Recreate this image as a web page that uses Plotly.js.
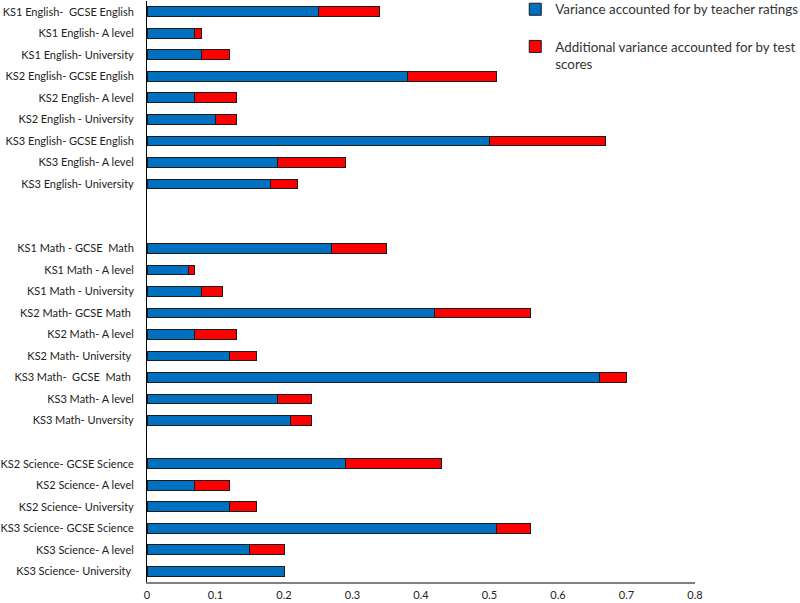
<!DOCTYPE html>
<html>
<head>
<meta charset="utf-8">
<script src="https://cdn.plot.ly/plotly-3.0.1.min.js"></script>
<style>html,body{margin:0;padding:0;background:#fff;}#chart{width:800px;height:603px;}</style>
</head>
<body>
<div id="chart"></div>
<script>
var NB = '\u00A0';
var categories = [
  'KS1 English-' + NB + ' GCSE English',
  'KS1 English- A level',
  'KS1 English- University',
  'KS2 English- GCSE English',
  'KS2 English- A level',
  'KS2 English - University',
  'KS3 English- GCSE English',
  'KS3 English- A level',
  'KS3 English- University',
  NB,
  NB + NB,
  'KS1 Math - GCSE' + NB + ' Math',
  'KS1 Math - A level',
  'KS1 Math - University',
  'KS2 Math- GCSE Math' + NB,
  'KS2 Math- A level',
  'KS2 Math- University' + NB,
  'KS3 Math-' + NB + ' GCSE' + NB + ' Math' + NB,
  'KS3 Math- A level',
  'KS3 Math- Unversity',
  NB + NB + NB,
  'KS2 Science- GCSE Science',
  'KS2 Science- A level',
  'KS2 Science- University',
  'KS3 Science- GCSE Science',
  'KS3 Science- A level',
  'KS3 Science- University' + NB
];
var teacherRatings = [0.25, 0.07, 0.08, 0.38, 0.07, 0.10, 0.50, 0.19, 0.18, null, null,
                      0.27, 0.06, 0.08, 0.42, 0.07, 0.12, 0.66, 0.19, 0.21, null,
                      0.29, 0.07, 0.12, 0.51, 0.15, 0.20];
var testScores = [0.09, 0.01, 0.04, 0.13, 0.06, 0.03, 0.17, 0.10, 0.04, null, null,
                  0.08, 0.01, 0.03, 0.14, 0.06, 0.04, 0.04, 0.05, 0.03, null,
                  0.14, 0.05, 0.04, 0.05, 0.05, 0.00];
var seriesNames = ['Variance accounted for by teacher ratings',
                   'Additional variance accounted for by test<br>scores'];
var xTicks = [0, 0.1, 0.2, 0.3, 0.4, 0.5, 0.6, 0.7, 0.8];

var FONT = 'Lato, "Open Sans", sans-serif';
var traces = [
  {type: 'bar', orientation: 'h', y: categories, x: teacherRatings, name: seriesNames[0],
   marker: {color: '#0070C0', line: {color: '#1a1a1a', width: 1}}, legend: 'legend', hoverinfo: 'x+y'},
  {type: 'bar', orientation: 'h', y: categories, x: testScores, name: seriesNames[1],
   marker: {color: '#FF0000', line: {color: '#1a1a1a', width: 1}}, legend: 'legend2', hoverinfo: 'x+y'}
];
var layout = {
  width: 800, height: 603,
  margin: {l: 147, r: 105, t: 1, b: 21, pad: 0, autoexpand: false},
  paper_bgcolor: '#fff', plot_bgcolor: '#fff',
  barmode: 'stack', bargap: 0.55,
  font: {family: FONT, size: 11, color: '#222'},
  xaxis: {range: [0, 0.8], tickvals: xTicks, ticktext: xTicks.map(function(v){return String(v);}),
          showgrid: false, zeroline: false, showline: true, linecolor: '#808080', linewidth: 1.5,
          ticks: '', ticklabelstandoff: 2, tickfont: {size: 11, color: '#222'}, fixedrange: true,
          automargin: false},
  yaxis: {type: 'category', categoryorder: 'array', categoryarray: categories, autorange: 'reversed',
          showgrid: false, zeroline: false, showline: true, linecolor: '#000', linewidth: 1,
          ticks: '', ticklabelstandoff: 10, tickfont: {size: 11, color: '#222'}, fixedrange: true,
          automargin: false},
  showlegend: true,
  legend: {x: 0.672, y: 1.012, xref: 'paper', yref: 'paper', xanchor: 'left', yanchor: 'top',
           bgcolor: 'rgba(0,0,0,0)', font: {size: 13.4, color: '#333', family: FONT}, valign: 'top'},
  legend2: {x: 0.672, y: 0.948, xref: 'paper', yref: 'paper', xanchor: 'left', yanchor: 'top',
            bgcolor: 'rgba(0,0,0,0)', font: {size: 13.4, color: '#333', family: FONT}, valign: 'top'}
};
Plotly.newPlot('chart', traces, layout, {displayModeBar: false, staticPlot: true});
</script>
</body>
</html>
